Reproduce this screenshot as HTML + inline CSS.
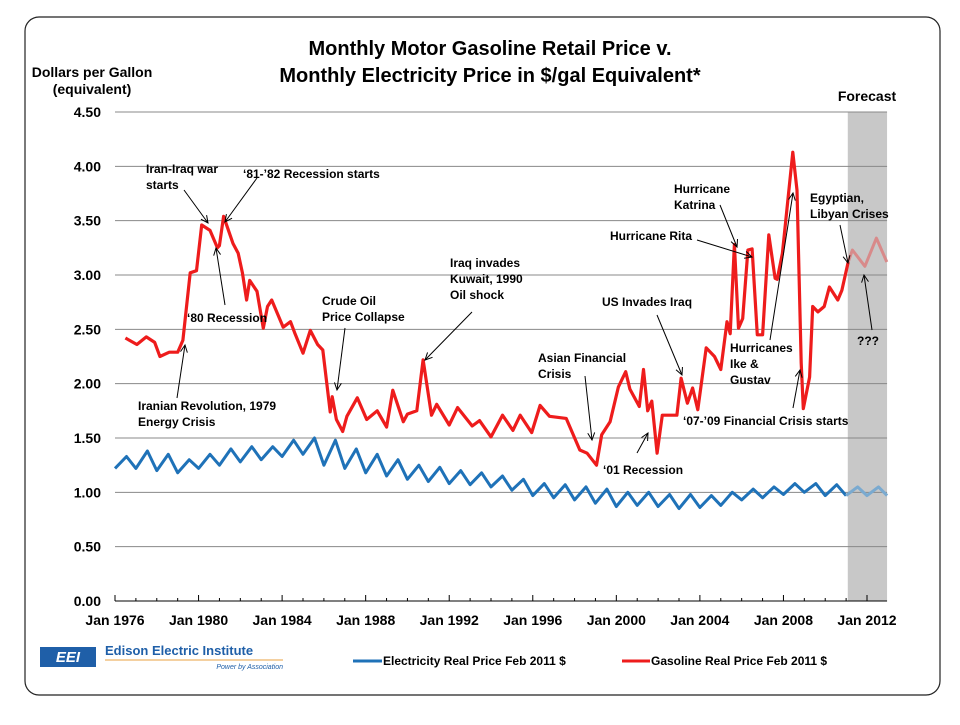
<!DOCTYPE html>
<html><head><meta charset="utf-8"><style>
body{margin:0;background:#fff;width:960px;height:720px;overflow:hidden;font-family:"Liberation Sans",Arial,sans-serif}
svg text{font-family:"Liberation Sans",Arial,sans-serif}
</style></head><body>
<svg id="c" width="960" height="720" xmlns="http://www.w3.org/2000/svg">
<rect x="25" y="17" width="915" height="678" rx="14" fill="#fff" stroke="#222" stroke-width="1.2"/>
<text x="490" y="55" text-anchor="middle" font-size="20" font-weight="bold">Monthly Motor Gasoline Retail Price v.</text>
<text x="490" y="82" text-anchor="middle" font-size="20" font-weight="bold">Monthly Electricity Price in $/gal Equivalent*</text>
<text x="92" y="77" text-anchor="middle" font-size="14" font-weight="bold"><tspan x="92">Dollars per Gallon</tspan><tspan x="92" dy="17">(equivalent)</tspan></text>
<text x="867" y="101" text-anchor="middle" font-size="14" font-weight="bold">Forecast</text>
<g id="grid"></g>
<g id="series"></g>
<g id="ann" font-size="12" font-weight="bold" fill="#000"></g>
<g>
<rect x="40" y="647" width="56" height="20" fill="#1f5fa8"/>
<text x="68" y="662" text-anchor="middle" font-size="15" font-weight="bold" fill="#fff" font-style="italic">EEI</text>
<text x="105" y="655" font-size="13" font-weight="bold" fill="#1f5fa8">Edison Electric Institute</text>
<line x1="105" y1="660" x2="283" y2="660" stroke="#e8a040" stroke-width="1"/>
<text x="283" y="669" text-anchor="end" font-size="7" font-style="italic" fill="#1f5fa8">Power by Association</text>
</g>
<g font-size="12" font-weight="bold">
<line x1="353" y1="661" x2="382" y2="661" stroke="#1f72b8" stroke-width="3"/>
<text x="383" y="665">Electricity Real Price Feb 2011 $</text>
<line x1="622" y1="661" x2="650" y2="661" stroke="#ee1c1c" stroke-width="3"/>
<text x="651" y="665">Gasoline Real Price Feb 2011 $</text>
</g>
</svg>
<script>
const yTicks=[0,0.5,1,1.5,2,2.5,3,3.5,4,4.5];
const yTickLabels=["0.00","0.50","1.00","1.50","2.00","2.50","3.00","3.50","4.00","4.50"];
const xTickYears=[1976,1980,1984,1988,1992,1996,2000,2004,2008,2012];
const xTickLabels=["Jan 1976","Jan 1980","Jan 1984","Jan 1988","Jan 1992","Jan 1996","Jan 2000","Jan 2004","Jan 2008","Jan 2012"];
const forecastStart=2011.08, xEnd=2012.96;
const gasDates=[1976.5,1977.05,1977.5,1977.9,1978.15,1978.6,1979.0,1979.25,1979.6,1979.9,1980.15,1980.55,1980.9,1981.0,1981.2,1981.65,1981.9,1982.1,1982.3,1982.45,1982.8,1983.1,1983.3,1983.5,1984.05,1984.4,1984.6,1985.0,1985.35,1985.7,1985.95,1986.3,1986.4,1986.6,1986.9,1987.1,1987.6,1988.05,1988.55,1989.0,1989.3,1989.8,1990.0,1990.45,1990.75,1991.15,1991.4,1992.0,1992.4,1993.1,1993.45,1994.0,1994.55,1995.05,1995.4,1995.95,1996.35,1996.8,1997.6,1998.25,1998.6,1999.05,1999.3,1999.7,2000.1,2000.45,2000.65,2001.1,2001.3,2001.5,2001.7,2001.95,2002.2,2002.9,2003.1,2003.4,2003.65,2003.9,2004.3,2004.7,2005.0,2005.3,2005.45,2005.65,2005.85,2006.05,2006.3,2006.5,2006.75,2007.0,2007.3,2007.6,2007.7,2007.95,2008.45,2008.65,2008.85,2008.95,2009.25,2009.4,2009.65,2009.95,2010.2,2010.6,2010.8,2011.1];
const gasValues=[2.42,2.36,2.43,2.38,2.25,2.29,2.29,2.40,3.02,3.04,3.46,3.41,3.25,3.27,3.54,3.29,3.20,3.02,2.77,2.95,2.85,2.51,2.71,2.77,2.52,2.57,2.47,2.28,2.49,2.36,2.31,1.74,1.88,1.67,1.56,1.70,1.87,1.67,1.75,1.60,1.94,1.65,1.72,1.75,2.22,1.71,1.81,1.62,1.78,1.61,1.66,1.51,1.71,1.57,1.71,1.55,1.80,1.70,1.68,1.39,1.36,1.25,1.53,1.65,1.97,2.11,1.95,1.79,2.13,1.75,1.84,1.36,1.71,1.71,2.05,1.82,1.96,1.76,2.33,2.25,2.13,2.57,2.46,3.28,2.51,2.60,3.23,3.24,2.45,2.45,3.37,2.97,2.96,3.20,4.13,3.78,2.19,1.77,2.06,2.71,2.66,2.71,2.89,2.77,2.86,3.12];
const gasFcDates=[2011.1,2011.3,2011.9,2012.45,2012.95];
const gasFcValues=[3.12,3.23,3.08,3.34,3.12];
const elecYears=[1976,1977,1978,1979,1980,1981,1982,1983,1984,1985,1986,1987,1988,1989,1990,1991,1992,1993,1994,1995,1996,1997,1998,1999,2000,2001,2002,2003,2004,2005,2006,2007,2008,2009,2010,2011,2012];
const elecSummer=[1.33,1.38,1.35,1.30,1.35,1.40,1.42,1.42,1.48,1.50,1.48,1.40,1.35,1.30,1.25,1.23,1.20,1.18,1.15,1.12,1.08,1.07,1.05,1.03,1.00,1.00,0.98,0.98,0.97,1.00,1.03,1.05,1.08,1.08,1.07,1.05,1.05];
const elecWinter=[1.22,1.22,1.20,1.18,1.22,1.25,1.28,1.30,1.33,1.35,1.25,1.22,1.18,1.15,1.12,1.10,1.08,1.07,1.05,1.02,0.97,0.95,0.93,0.90,0.87,0.88,0.87,0.85,0.86,0.88,0.93,0.95,0.98,1.00,0.97,0.97,0.97];
const X0=115,X1=867,Y0=601,Y1=112;
const xs=t=>X0+(t-1976)*(X1-X0)/36;
const ys=v=>Y0-v*(Y0-Y1)/4.5;
const NS="http://www.w3.org/2000/svg";
function mk(tag,attrs,parent,text){const e=document.createElementNS(NS,tag);for(const k in attrs)e.setAttribute(k,attrs[k]);if(text!==undefined)e.textContent=text;parent.appendChild(e);return e;}
const grid=document.getElementById('grid'),ser=document.getElementById('series'),ann=document.getElementById('ann');
const fc=mk('rect',{x:xs(forecastStart),y:Y1,width:xs(xEnd)-xs(forecastStart),height:Y0-Y1,fill:'#c8c8c8'},grid);


yTicks.forEach((v,i)=>{
  if(v>0){const l=mk('line',{x1:X0,x2:xs(xEnd),y1:ys(v),y2:ys(v),stroke:'#888','stroke-width':1},grid);
  
  }
  const t=mk('text',{x:101,y:ys(v)+5,'text-anchor':'end','font-size':14,'font-weight':'bold'},grid,yTickLabels[i]);
  
  
});
const ax=mk('line',{x1:X0,x2:xs(xEnd),y1:Y0,y2:Y0,stroke:'#000','stroke-width':1},grid);


for(let yr=1976;yr<=2012;yr++){mk('line',{x1:xs(yr),x2:xs(yr),y1:Y0-(yr%4===0?6:3),y2:Y0,stroke:'#000'},grid);}
xTickYears.forEach((yr,i)=>{
  const t=mk('text',{x:xs(yr),y:Y0+24,'text-anchor':'middle','font-size':14,'font-weight':'bold'},grid,xTickLabels[i]);
  
  
});
function line(d,v,col,w,op){return mk('polyline',{points:d.map((t,i)=>xs(t).toFixed(1)+','+ys(v[i]).toFixed(1)).join(' '),fill:'none',stroke:col,'stroke-width':w,'stroke-linejoin':'round',opacity:op},ser);}
const eD=[],eV=[],fD=[],fV=[];
elecYears.forEach((y,i)=>{const pts=[[y,elecWinter[i]],[y+0.55,elecSummer[i]]];pts.forEach(p=>{if(p[0]<=forecastStart+0.01){eD.push(p[0]);eV.push(p[1]);}else{if(fD.length===0){fD.push(eD[eD.length-1]);fV.push(eV[eV.length-1]);}if(p[0]<=xEnd){fD.push(p[0]);fV.push(p[1]);}}});});
fD.push(xEnd);fV.push(elecWinter[elecWinter.length-1]);
const el=line(eD,eV,'#1f72b8',3,1);


const elf=line(fD,fV,'#7aaad0',3,1);


const gl=line(gasDates,gasValues,'#ee1c1c',3.2,1);


const gf=line(gasFcDates,gasFcValues,'#d88a8a',3,1);


const notes=[
 [["Iran-Iraq war","starts"],146,173,184,190,208,223],
 [["‘81-’82 Recession  starts"],243,178,257,178,225,222],
 [["‘80 Recession"],187,322,225,305,216,248],
 [["Iranian Revolution, 1979","Energy Crisis"],138,410,177,398,185,345],
 [["Crude Oil","Price Collapse"],322,305,345,328,337,390],
 [["Iraq invades","Kuwait, 1990","Oil shock"],450,267,472,312,425,360],
 [["Asian Financial","Crisis"],538,362,585,376,592,440],
 [["‘01 Recession"],603,474,637,453,648,433],
 [["US Invades  Iraq"],602,306,657,315,682,375],
 [["Hurricane","Katrina"],674,193,720,205,737,247],
 [["Hurricane Rita"],610,240,697,240,752,257],
 [["Hurricanes","Ike &","Gustav"],730,352,770,340,793,193],
 [["‘07-’09 Financial Crisis starts"],683,425,793,408,800,370],
 [["Egyptian,","Libyan Crises"],810,202,840,225,848,263],
 [["???"],857,345,872,330,864,275]
];
notes.forEach(n=>{
  const t=mk('text',{x:n[1],y:n[2]},ann);
  
  
  n[0].forEach((s,i)=>mk('tspan',{x:n[1],dy:i?16:0},t,s));
  mk('line',{x1:n[3],y1:n[4],x2:n[5],y2:n[6],stroke:'#000','stroke-width':1},ann);
  const a=Math.atan2(n[6]-n[4],n[5]-n[3]),L=8;
  const p1=[n[5]-L*Math.cos(a-0.45),n[6]-L*Math.sin(a-0.45)],p2=[n[5]-L*Math.cos(a+0.45),n[6]-L*Math.sin(a+0.45)];
  mk('polyline',{points:p1.join(',')+' '+n[5]+','+n[6]+' '+p2.join(','),fill:'none',stroke:'#000','stroke-width':1},ann);
});
</script>
</body></html>
